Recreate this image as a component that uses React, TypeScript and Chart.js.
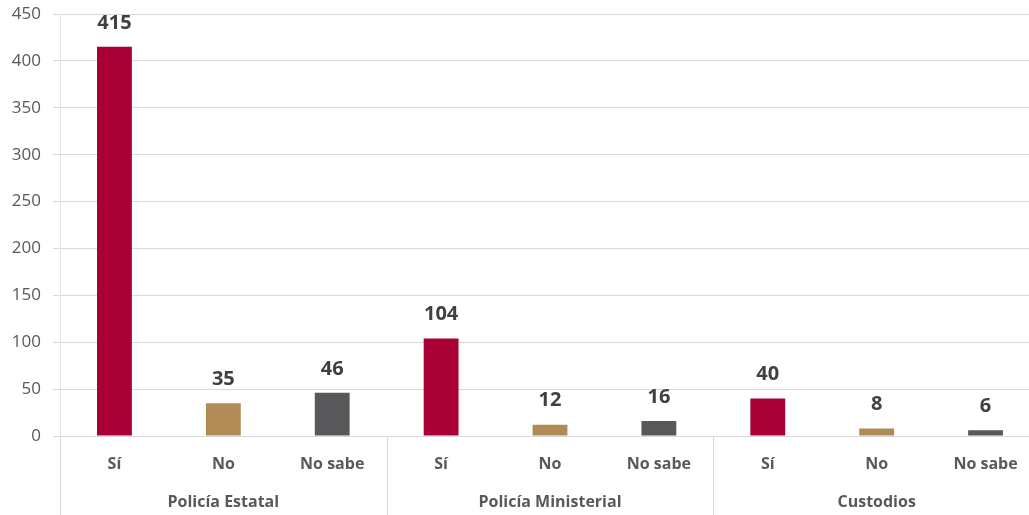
import React, { useEffect, useRef } from "react";
import { Chart, registerables } from "chart.js";

Chart.register(...registerables);

const groups = ["Policía Estatal", "Policía Ministerial", "Custodios"];
const answers = ["Sí", "No", "No sabe"];
const values = [415, 35, 46, 104, 12, 16, 40, 8, 6];
const answerColors = ["#A80035", "#B08B55", "#58585B"];
const yTicks = [0, 50, 100, 150, 200, 250, 300, 350, 400, 450];

const FONT = "'Open Sans', 'Noto Sans', sans-serif";

const labels: string[] = [];
const colors: string[] = [];
groups.forEach(() => {
  answers.forEach((a, i) => {
    labels.push(a);
    colors.push(answerColors[i]);
  });
});

const extrasPlugin = {
  id: "extras",
  afterDatasetsDraw(chart: any) {
    const ctx = chart.ctx;
    const meta = chart.getDatasetMeta(0);
    ctx.save();
    ctx.font = `bold 20px ${FONT}`;
    ctx.fillStyle = "#404040";
    ctx.textAlign = "center";
    ctx.textBaseline = "middle";
    meta.data.forEach((bar: any, i: number) => {
      ctx.fillText(String(values[i]), bar.x, bar.y - 24);
    });
    ctx.restore();
  },
  afterDraw(chart: any) {
    const ctx = chart.ctx;
    const x = chart.scales.x;
    const bottom = chart.chartArea.bottom;
    const n = answers.length;
    const half = (x.getPixelForValue(1) - x.getPixelForValue(0)) / 2;
    ctx.save();
    ctx.strokeStyle = "#D9D9D9";
    ctx.lineWidth = 1;
    for (let g = 0; g <= groups.length; g++) {
      const idx = g * n;
      const px = Math.round(x.getPixelForValue(idx) - half) + 0.5;
      ctx.beginPath();
      ctx.moveTo(px, bottom);
      ctx.lineTo(px, chart.height);
      ctx.stroke();
    }
    ctx.font = `bold 16px ${FONT}`;
    ctx.fillStyle = "#595959";
    ctx.textAlign = "center";
    ctx.textBaseline = "middle";
    groups.forEach((g, gi) => {
      const l = x.getPixelForValue(gi * n) - half;
      const r = x.getPixelForValue(gi * n + n - 1) + half;
      ctx.fillText(g, (l + r) / 2, 502);
    });
    ctx.restore();
  },
};

export default function App() {
  const ref = useRef<HTMLCanvasElement>(null);
  useEffect(() => {
    document.body.style.margin = "0";
    document.body.style.overflow = "hidden";
    const chart = new Chart(ref.current!, {
      type: "bar",
      data: {
        labels,
        datasets: [
          {
            data: values,
            backgroundColor: colors,
            barPercentage: 0.32,
            categoryPercentage: 1,
          },
        ],
      },
      options: {
        animation: false,
        responsive: false,
        layout: { padding: { top: 14, right: 0, left: 0, bottom: 0 } },
        plugins: { legend: { display: false }, tooltip: { enabled: false } },
        scales: {
          x: {
            grid: { display: false },
            border: { display: true, color: "#D9D9D9", width: 1 },
            ticks: {
              color: "#595959",
              font: { family: FONT, size: 16, weight: "bold" },
              padding: 11,
              maxRotation: 0,
              autoSkip: false,
            },
            afterFit(scale: any) {
              scale.height = 79;
              scale.paddingLeft = 0;
              scale.paddingRight = 0;
            },
          },
          y: {
            min: 0,
            max: 450,
            afterBuildTicks(scale: any) {
              scale.ticks = yTicks.map((v) => ({ value: v }));
            },
            grid: { color: "#D9D9D9", tickLength: 7, drawTicks: true },
            border: { display: true, color: "#E6E6E6", width: 1 },
            ticks: {
              color: "#595959",
              font: { family: FONT, size: 17 },
              padding: 12,
            },
            afterFit(scale: any) {
              scale.width = 60;
              scale.paddingTop = 0;
              scale.paddingBottom = 0;
            },
          },
        },
      },
      plugins: [extrasPlugin],
    });
    return () => chart.destroy();
  }, []);
  return (
    <div style={{ position: "fixed", left: 0, top: 0, width: 1029, height: 515, overflow: "hidden" }}>
      <canvas ref={ref} width={1040} height={515} style={{ width: 1040, height: 515, display: "block" }} />
    </div>
  );
}
